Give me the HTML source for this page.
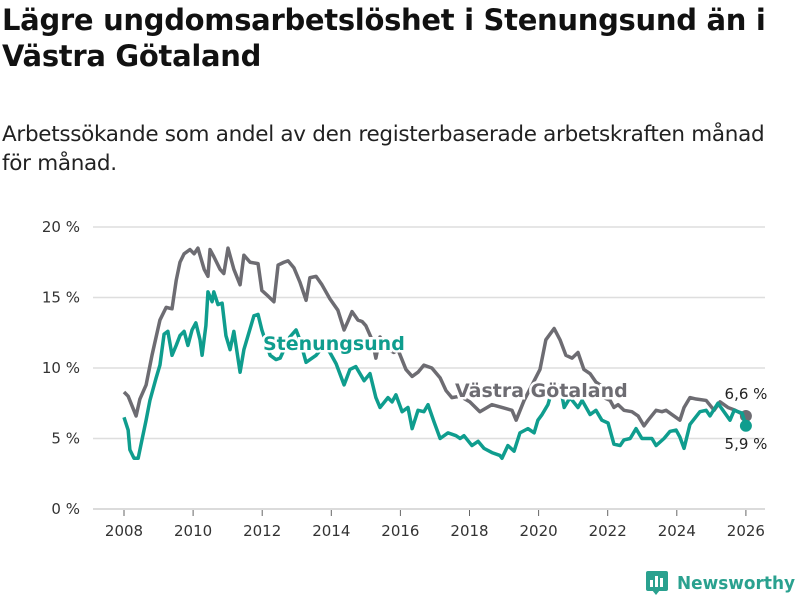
<!DOCTYPE html>
<html><head><meta charset="utf-8"><style>
body{margin:0;background:#fff;width:800px;height:600px;overflow:hidden;font-family:"Liberation Sans","DejaVu Sans",sans-serif;}
h1{position:absolute;left:2px;top:2px;margin:0;font-size:29px;line-height:36px;font-weight:bold;color:#111;font-family:"DejaVu Sans","Liberation Sans",sans-serif;letter-spacing:-0.3px;}
p{position:absolute;left:2px;top:120px;margin:0;font-size:21.5px;line-height:29px;color:#222;font-family:"DejaVu Sans","Liberation Sans",sans-serif;letter-spacing:-0.3px;}
svg{position:absolute;left:0;top:0;}
</style></head><body>
<h1>Lägre ungdomsarbetslöshet i Stenungsund än i<br>Västra Götaland</h1>
<p>Arbetssökande som andel av den registerbaserade arbetskraften månad<br>för månad.</p>
<svg id="c" width="800" height="600" font-family="DejaVu Sans, Liberation Sans, sans-serif"></svg>
<script>
const yTicks=[0,5,10,15,20];
const xTicks=[2008,2010,2012,2014,2016,2018,2020,2022,2024,2026];
const vgDates=[2008.00,2008.12,2008.35,2008.46,2008.64,2008.81,2009.04,2009.22,2009.39,2009.51,2009.62,2009.74,2009.91,2010.03,2010.14,2010.32,2010.43,2010.49,2010.60,2010.78,2010.89,2011.01,2011.18,2011.36,2011.47,2011.65,2011.88,2011.99,2012.17,2012.34,2012.46,2012.63,2012.75,2012.92,2013.09,2013.27,2013.38,2013.56,2013.73,2013.96,2014.19,2014.37,2014.48,2014.60,2014.77,2014.89,2015.00,2015.18,2015.29,2015.41,2015.58,2015.81,2015.93,2016.16,2016.34,2016.51,2016.68,2016.91,2017.15,2017.32,2017.49,2017.73,2018.01,2018.30,2018.65,2018.94,2019.23,2019.35,2019.58,2019.81,2020.04,2020.21,2020.45,2020.62,2020.79,2020.97,2021.14,2021.31,2021.49,2021.66,2021.78,2021.89,2022.07,2022.18,2022.30,2022.47,2022.70,2022.88,2023.05,2023.17,2023.40,2023.57,2023.69,2023.86,2024.09,2024.21,2024.38,2024.56,2024.85,2025.08,2025.25,2025.48,2025.69,2026.00];
const vgValues=[8.3,8.0,6.6,7.8,8.8,10.9,13.4,14.3,14.2,16.2,17.5,18.1,18.4,18.1,18.5,17.0,16.5,18.4,17.9,17.0,16.7,18.5,17.0,15.9,18.0,17.5,17.4,15.5,15.1,14.7,17.3,17.5,17.6,17.1,16.1,14.8,16.4,16.5,15.9,14.9,14.1,12.7,13.3,14.0,13.4,13.3,13.0,12.0,10.7,12.2,11.4,11.1,11.3,9.9,9.4,9.7,10.2,10.0,9.3,8.4,7.9,8.0,7.6,6.9,7.4,7.2,7.0,6.3,7.7,8.8,9.9,12.0,12.8,12.0,10.9,10.7,11.1,9.9,9.6,9.0,8.8,7.9,7.7,7.2,7.4,7.0,6.9,6.6,5.9,6.3,7.0,6.9,7.0,6.7,6.3,7.2,7.9,7.8,7.7,7.0,7.6,7.2,7.0,6.6];
const stDates=[2008.00,2008.12,2008.17,2008.29,2008.41,2008.52,2008.64,2008.75,2008.93,2009.04,2009.16,2009.27,2009.39,2009.51,2009.62,2009.74,2009.85,2009.97,2010.08,2010.20,2010.26,2010.37,2010.43,2010.55,2010.60,2010.72,2010.84,2010.95,2011.07,2011.18,2011.36,2011.47,2011.59,2011.76,2011.88,2011.99,2012.23,2012.40,2012.52,2012.80,2012.98,2013.09,2013.27,2013.56,2013.79,2013.96,2014.14,2014.37,2014.54,2014.71,2014.95,2015.12,2015.29,2015.41,2015.64,2015.76,2015.87,2016.05,2016.22,2016.34,2016.51,2016.68,2016.80,2016.97,2017.15,2017.38,2017.61,2017.73,2017.84,2018.07,2018.25,2018.42,2018.65,2018.88,2018.94,2019.11,2019.29,2019.46,2019.69,2019.87,2019.98,2020.10,2020.27,2020.39,2020.62,2020.74,2020.91,2021.14,2021.26,2021.49,2021.66,2021.83,2022.01,2022.18,2022.36,2022.47,2022.65,2022.82,2022.99,2023.28,2023.40,2023.63,2023.80,2023.98,2024.09,2024.21,2024.38,2024.67,2024.85,2024.96,2025.19,2025.54,2025.66,2025.89,2026.00];
const stValues=[6.5,5.6,4.2,3.6,3.6,4.9,6.3,7.7,9.3,10.2,12.4,12.6,10.9,11.6,12.3,12.6,11.6,12.7,13.2,12.0,10.9,13.0,15.4,14.7,15.4,14.5,14.6,12.3,11.3,12.6,9.7,11.3,12.3,13.7,13.8,12.7,10.9,10.6,10.7,12.2,12.7,12.0,10.4,10.9,11.6,11.1,10.3,8.8,9.9,10.1,9.1,9.6,7.9,7.2,7.9,7.6,8.1,6.9,7.2,5.7,7.0,6.9,7.4,6.2,5.0,5.4,5.2,5.0,5.2,4.5,4.8,4.3,4.0,3.8,3.6,4.5,4.1,5.4,5.7,5.4,6.3,6.7,7.4,8.4,8.8,7.2,7.9,7.2,7.7,6.7,7.0,6.3,6.1,4.6,4.5,4.9,5.0,5.7,5.0,5.0,4.5,5.0,5.5,5.6,5.1,4.3,6.0,6.9,7.0,6.6,7.5,6.3,7.0,6.8,5.9];
const NS='http://www.w3.org/2000/svg';
const svg=document.getElementById('c');
const X=d=>124+(d-2008)*34.55;
const Y=v=>509-v*14.1;
function mk(t,a,p){const e=document.createElementNS(NS,t);for(const k in a)e.setAttribute(k,a[k]);(p||svg).appendChild(e);return e;}
yTicks.forEach(v=>{
  const l=mk('line',{x1:93,x2:765,y1:Y(v),y2:Y(v),stroke:v===0?'#cfcfcf':'#dedede','stroke-width':1.5});
  
  
  const t=mk('text',{x:80,y:Y(v)+5,'text-anchor':'end','font-size':15,fill:'#333'});
  t.textContent=v+' %';
  
  
});
xTicks.forEach(d=>{
  const l=mk('line',{x1:X(d),x2:X(d),y1:510,y2:516,stroke:'#666','stroke-width':1});
  
  
  const t=mk('text',{x:X(d),y:536,'text-anchor':'middle','font-size':15,fill:'#333'});
  t.textContent=d;
  
  
});
function line(ds,vs,col,name){
  const p=mk('polyline',{points:ds.map((d,i)=>X(d)+','+Y(vs[i])).join(' '),fill:'none',stroke:col,'stroke-width':3.5,'stroke-linejoin':'round'});
  
  
  const c=mk('circle',{cx:X(ds[ds.length-1]),cy:Y(vs[vs.length-1]),r:6,fill:col});
  
  
}
line(vgDates,vgValues,'#6d6c72','vastra-gotaland-line');
line(stDates,stValues,'#0f9d8e','stenungsund-line');
function lab(txt,x,y,col,name,bold,anchor){
  const t=mk('text',{x:x,y:y,'font-size':bold?19:15,'font-weight':bold?'bold':'normal',fill:col,stroke:'#fff','stroke-width':bold?5:0,'paint-order':'stroke','text-anchor':anchor||'start'});
  t.textContent=txt;
  
  
}
lab('Stenungsund',263,350,'#0f9d8e','stenungsund-label',true);
lab('Västra Götaland',455,397,'#6d6c72','vastra-gotaland-label',true);
lab('6,6 %',746,399,'#222','vastra-gotaland-end-value',false,'middle');
lab('5,9 %',746,449,'#222','stenungsund-end-value',false,'middle');
</script>
<svg width="800" height="600" style="position:absolute;left:0;top:0">
<rect x="646" y="571" width="22" height="20" rx="2" fill="#2aa18f"/>
<rect x="650" y="580" width="3" height="7" fill="#fff"/><rect x="655" y="576" width="3" height="11" fill="#fff"/><rect x="660" y="578" width="3" height="9" fill="#fff"/>
<polygon points="652,590 660,590 656,595" fill="#2aa18f"/>
<text x="677" y="589" font-size="17.5" font-weight="bold" fill="#2aa18f" font-family="DejaVu Sans, Liberation Sans, sans-serif" textLength="118" lengthAdjust="spacingAndGlyphs">Newsworthy</text>
</svg>
</body></html>
